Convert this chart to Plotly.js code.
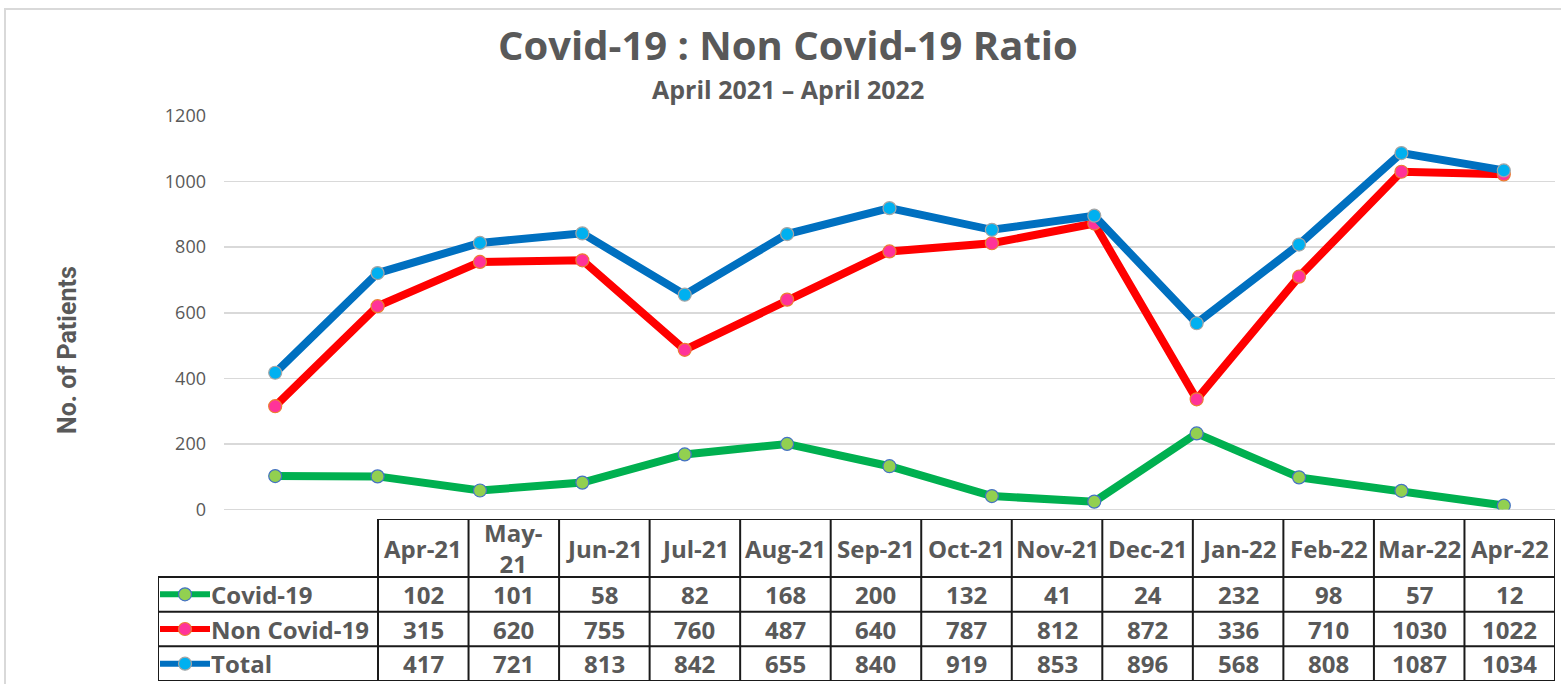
<!DOCTYPE html>
<html>
<head>
<meta charset="utf-8">
<script src="https://cdn.plot.ly/plotly-3.0.1.min.js"></script>
<style>
  html, body { margin: 0; padding: 0; background: #ffffff; }
  #chart { width: 1561px; height: 684px; }
</style>
</head>
<body>
<div id="chart"></div>
<script>
// ---------- data ----------
const categories = ['Apr-21','May-21','Jun-21','Jul-21','Aug-21','Sep-21','Oct-21','Nov-21','Dec-21','Jan-22','Feb-22','Mar-22','Apr-22'];
const headerLabels = ['Apr-21','May-<br>21','Jun-21','Jul-21','Aug-21','Sep-21','Oct-21','Nov-21','Dec-21','Jan-22','Feb-22','Mar-22','Apr-22'];
const covid    = [102, 101, 58, 82, 168, 200, 132, 41, 24, 232, 98, 57, 12];
const nonCovid = [315, 620, 755, 760, 487, 640, 787, 812, 872, 336, 710, 1030, 1022];
const total    = [417, 721, 813, 842, 655, 840, 919, 853, 896, 568, 808, 1087, 1034];
const seriesNames = ['Covid-19', 'Non Covid-19', 'Total'];
const yTickVals = [0, 200, 400, 600, 800, 1000, 1200];
const chartTitle = 'Covid-19 : Non Covid-19 Ratio';
const chartSubtitle = 'April 2021 \u2013 April 2022';
const yTitle = 'No. of Patients';

// ---------- styles ----------
const W = 1561, H = 684;
const series = [
  {name: seriesNames[0], y: covid,    line: '#00B050', fill: '#92D050', edge: '#4472C4'},
  {name: seriesNames[1], y: nonCovid, line: '#FF0000', fill: '#FF3399', edge: '#ED7D31'},
  {name: seriesNames[2], y: total,    line: '#0070C0', fill: '#00B0F0', edge: '#A5A5A5'}
];
const textGray = '#595959';
const FONT = 'Open Sans, Noto Sans, sans-serif';

// plot area (pixels)
const plotL = 224, plotR = 1555, plotT = 116, plotB = 509.5;
// table area (pixels)
const tabL = 158, tabDataL = 378, tabR = 1555, tabT = 519, tabHeadB = 577, tabB = 681;
const nCols = categories.length;
const colW = (tabR - tabDataL) / nCols;
const rowH = (tabB - tabHeadB) / series.length;
const headH = (tabHeadB - tabT) / rowH;           // header height in row units
const x2min = -0.5 - (tabDataL - tabL) / colW;     // left edge of label column

const traces = [];
series.forEach(s => {
  traces.push({
    type: 'scatter', mode: 'lines+markers', name: s.name,
    x: categories, y: s.y, xaxis: 'x', yaxis: 'y',
    line: {color: s.line, width: 8},
    marker: {size: 13, color: s.fill, line: {color: s.edge, width: 1.2}},
    hoverinfo: 'skip', showlegend: false
  });
});

// legend keys inside the table's label column
const keyL = x2min + 2 / colW, keyR = x2min + 52 / colW, keyM = (keyL + keyR) / 2;
series.forEach((s, i) => {
  traces.push({
    type: 'scatter', mode: 'lines', x: [keyL, keyR], y: [i + 0.5, i + 0.5],
    xaxis: 'x2', yaxis: 'y2', line: {color: s.line, width: 6},
    hoverinfo: 'skip', showlegend: false
  });
  traces.push({
    type: 'scatter', mode: 'markers', x: [keyM], y: [i + 0.5],
    xaxis: 'x2', yaxis: 'y2',
    marker: {size: 13, color: s.fill, line: {color: s.edge, width: 1.2}},
    hoverinfo: 'skip', showlegend: false
  });
});

const annotations = [];
const cellFont = {family: FONT, size: 24, color: textGray, weight: 'bold'};
// header labels
headerLabels.forEach((lab, j) => {
  annotations.push({xref: 'x2', yref: 'y2', x: j, y: -headH / 2, text: lab,
    showarrow: false, xanchor: 'center', yanchor: 'middle', font: cellFont});
});
// row labels and values
series.forEach((s, i) => {
  annotations.push({xref: 'x2', yref: 'y2', x: x2min + 51 / colW, y: i + 0.5, text: s.name,
    showarrow: false, xanchor: 'left', yanchor: 'middle', font: cellFont});
  s.y.forEach((v, j) => {
    annotations.push({xref: 'x2', yref: 'y2', x: j, y: i + 0.5, text: String(v),
      showarrow: false, xanchor: 'center', yanchor: 'middle', font: cellFont});
  });
});
// titles
annotations.push({xref: 'paper', yref: 'paper', x: 787.5 / W, y: 1 - 45 / H, text: chartTitle,
  showarrow: false, xanchor: 'center', yanchor: 'middle', borderpad: 0,
  font: {family: FONT, size: 40, color: textGray, weight: 'bold'}});
annotations.push({xref: 'paper', yref: 'paper', x: 787.5 / W, y: 1 - 89 / H, text: chartSubtitle,
  showarrow: false, xanchor: 'center', yanchor: 'middle', borderpad: 0,
  font: {family: FONT, size: 25, color: textGray, weight: 'bold'}});
annotations.push({xref: 'paper', yref: 'paper', x: 67 / W, y: 1 - 350 / H, text: yTitle,
  showarrow: false, xanchor: 'center', yanchor: 'middle', textangle: -90,
  font: {family: 'Liberation Sans Narrow, Arial Narrow, Roboto, sans-serif', size: 25, color: textGray, weight: 'bold'}});

// table borders
const shapes = [];
const bline = {color: '#1a1a1a', width: 2};
// outer frame of whole chart
shapes.push({type: 'rect', xref: 'paper', yref: 'paper', x0: 5 / W, x1: 1.02, y0: -0.02, y1: 1 - 9 / H,
  line: {color: '#d9d9d9', width: 2}, fillcolor: 'rgba(0,0,0,0)', layer: 'below'});
// horizontal lines
shapes.push({type: 'line', xref: 'x2', yref: 'y2', x0: -0.5, x1: nCols - 0.5, y0: -headH, y1: -headH, line: bline});
for (let r = 0; r <= series.length; r++) {
  shapes.push({type: 'line', xref: 'x2', yref: 'y2', x0: x2min, x1: nCols - 0.5, y0: r, y1: r, line: bline});
}
// vertical lines
shapes.push({type: 'line', xref: 'x2', yref: 'y2', x0: x2min, x1: x2min, y0: 0, y1: series.length, line: bline});
for (let c = 0; c <= nCols; c++) {
  shapes.push({type: 'line', xref: 'x2', yref: 'y2', x0: c - 0.5, x1: c - 0.5, y0: -headH, y1: series.length, line: bline});
}

const layout = {
  width: W, height: H,
  margin: {l: 0, r: 0, t: 0, b: 0, pad: 0},
  paper_bgcolor: '#ffffff', plot_bgcolor: 'rgba(0,0,0,0)',
  showlegend: false,
  xaxis: {domain: [plotL / W, plotR / W], type: 'category', range: [-0.5, nCols - 0.5],
    showticklabels: false, showgrid: false, zeroline: false, showline: false, ticks: '', fixedrange: true},
  yaxis: {domain: [1 - plotB / H, 1 - plotT / H], range: [0, 1200], tickvals: yTickVals,
    showgrid: true, gridcolor: '#d9d9d9', gridwidth: 1.5,
    zeroline: true, zerolinecolor: '#d9d9d9', zerolinewidth: 1.5,
    showline: false, ticks: '', ticklabelstandoff: 17,
    tickfont: {family: FONT, size: 18, color: textGray}, fixedrange: true},
  xaxis2: {domain: [tabL / W, tabR / W], range: [x2min, nCols - 0.5], anchor: 'y2', visible: false, fixedrange: true},
  yaxis2: {domain: [1 - tabB / H, 1 - tabT / H], range: [series.length, -headH], anchor: 'x2', visible: false, fixedrange: true},
  annotations: annotations,
  shapes: shapes
};

Plotly.newPlot('chart', traces, layout, {displayModeBar: false, staticPlot: true});
</script>
</body>
</html>
